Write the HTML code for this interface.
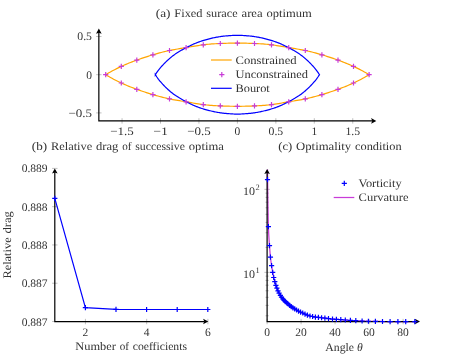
<!DOCTYPE html>
<html><head><meta charset="utf-8"><title>figure</title>
<style>html,body{margin:0;padding:0;background:#fff;}svg{display:block;will-change:transform;}text{font-family:"Liberation Serif",serif;font-size:11.5px;fill:#333;text-rendering:geometricPrecision;}</style>
</head><body>
<svg width="461" height="356" viewBox="0 0 461 356">
<rect width="461" height="356" fill="#fff"/>
<text x="155.8" y="17.3" textLength="14.67" lengthAdjust="spacingAndGlyphs">(a)</text>
<text x="174.3" y="17.3" textLength="28.22" lengthAdjust="spacingAndGlyphs">Fixed</text>
<text x="206.34" y="17.3" textLength="31.35" lengthAdjust="spacingAndGlyphs">surace</text>
<text x="241.52" y="17.3" textLength="21.08" lengthAdjust="spacingAndGlyphs">area</text>
<text x="266.42" y="17.3" textLength="45.28" lengthAdjust="spacingAndGlyphs">optimum</text>
<path d="M122.05 118.2V123.6M160.5 118.2V123.6M198.95 118.2V123.6M237.4 118.2V123.6M275.85 118.2V123.6M314.3 118.2V123.6M352.75 118.2V123.6M96.15 112.9H101.55M96.15 74.7H101.55M96.15 36.5H101.55" stroke="#808080" stroke-width="0.5" fill="none"/>
<path d="M98.85 120.9V31 M98.85 120.9H372" stroke="#000" stroke-width="1.2" fill="none" stroke-linecap="square"/>
<path d="M98.85 28.6 L96.05 33.8 L98.85 32.66 L101.65 33.8Z" fill="#000"/>
<path d="M376.3 120.9 L371.1 118.1 L372.24 120.9 L371.1 123.7Z" fill="#000"/>
<text x="122.05" y="135.4" text-anchor="middle" textLength="23.6" lengthAdjust="spacingAndGlyphs">−1.5</text>
<text x="160.5" y="135.4" text-anchor="middle" textLength="14.7" lengthAdjust="spacingAndGlyphs">−1</text>
<text x="198.95" y="135.4" text-anchor="middle" textLength="23.6" lengthAdjust="spacingAndGlyphs">−0.5</text>
<text x="237.4" y="135.4" text-anchor="middle">0</text>
<text x="275.85" y="135.4" text-anchor="middle" textLength="14.7" lengthAdjust="spacingAndGlyphs">0.5</text>
<text x="314.3" y="135.4" text-anchor="middle">1</text>
<text x="352.75" y="135.4" text-anchor="middle" textLength="14.7" lengthAdjust="spacingAndGlyphs">1.5</text>
<text x="92" y="116.7" text-anchor="end" textLength="23.6" lengthAdjust="spacingAndGlyphs">−0.5</text>
<text x="92" y="78.5" text-anchor="end">0</text>
<text x="92" y="40.3" text-anchor="end" textLength="14.7" lengthAdjust="spacingAndGlyphs">0.5</text>
<path d="M105.7 74.7 L107.29 73.75 L108.87 72.82 L110.44 71.93 L112.01 71.06 L113.57 70.23 L115.12 69.41 L116.67 68.63 L118.22 67.86 L119.76 67.12 L121.3 66.4 L122.84 65.7 L124.38 65.02 L125.92 64.35 L127.46 63.71 L129.01 63.07 L130.56 62.46 L132.11 61.85 L133.67 61.26 L135.23 60.67 L136.8 60.1 L138.38 59.53 L139.96 58.98 L141.55 58.43 L143.15 57.89 L144.76 57.35 L146.37 56.83 L148 56.31 L149.62 55.8 L151.26 55.3 L152.9 54.8 L154.55 54.31 L156.2 53.83 L157.86 53.37 L159.52 52.91 L161.19 52.47 L162.85 52.04 L164.52 51.63 L166.18 51.23 L167.84 50.86 L169.5 50.5 L171.15 50.16 L172.8 49.85 L174.45 49.55 L176.1 49.26 L177.76 48.98 L179.41 48.7 L181.07 48.43 L182.74 48.16 L184.41 47.88 L186.1 47.6 L187.8 47.31 L189.5 47.01 L191.22 46.71 L192.94 46.41 L194.67 46.11 L196.4 45.82 L198.13 45.54 L199.85 45.28 L201.58 45.03 L203.3 44.8 L205.01 44.59 L206.72 44.41 L208.43 44.25 L210.13 44.1 L211.82 43.97 L213.52 43.85 L215.21 43.75 L216.91 43.66 L218.6 43.58 L220.3 43.5 L222 43.43 L223.7 43.36 L225.41 43.31 L227.12 43.25 L228.83 43.21 L230.54 43.17 L232.26 43.14 L233.97 43.12 L235.68 43.1 L237.4 43.1 L239.12 43.1 L240.83 43.12 L242.54 43.14 L244.26 43.17 L245.97 43.21 L247.68 43.25 L249.39 43.31 L251.1 43.36 L252.8 43.43 L254.5 43.5 L256.2 43.58 L257.89 43.66 L259.59 43.75 L261.28 43.85 L262.98 43.97 L264.67 44.1 L266.37 44.25 L268.08 44.41 L269.79 44.59 L271.5 44.8 L273.22 45.03 L274.95 45.28 L276.67 45.54 L278.4 45.82 L280.13 46.11 L281.86 46.41 L283.58 46.71 L285.3 47.01 L287 47.31 L288.7 47.6 L290.39 47.88 L292.06 48.16 L293.73 48.43 L295.39 48.7 L297.04 48.98 L298.7 49.26 L300.35 49.55 L302 49.85 L303.65 50.16 L305.3 50.5 L306.96 50.86 L308.62 51.23 L310.28 51.63 L311.95 52.04 L313.61 52.47 L315.28 52.91 L316.94 53.37 L318.6 53.83 L320.25 54.31 L321.9 54.8 L323.54 55.3 L325.18 55.8 L326.8 56.31 L328.43 56.83 L330.04 57.35 L331.65 57.89 L333.25 58.43 L334.84 58.98 L336.42 59.53 L338 60.1 L339.57 60.67 L341.13 61.26 L342.69 61.85 L344.24 62.46 L345.79 63.07 L347.34 63.71 L348.88 64.35 L350.42 65.02 L351.96 65.7 L353.5 66.4 L355.04 67.12 L356.58 67.86 L358.13 68.63 L359.68 69.41 L361.23 70.23 L362.79 71.06 L364.36 71.93 L365.93 72.82 L367.51 73.75 L369.1 74.7 L367.51 75.65 L365.93 76.58 L364.36 77.47 L362.79 78.34 L361.23 79.17 L359.68 79.99 L358.13 80.77 L356.58 81.54 L355.04 82.28 L353.5 83 L351.96 83.7 L350.42 84.38 L348.88 85.05 L347.34 85.69 L345.79 86.33 L344.24 86.94 L342.69 87.55 L341.13 88.14 L339.57 88.73 L338 89.3 L336.42 89.87 L334.84 90.42 L333.25 90.97 L331.65 91.51 L330.04 92.05 L328.43 92.57 L326.8 93.09 L325.18 93.6 L323.54 94.1 L321.9 94.6 L320.25 95.09 L318.6 95.57 L316.94 96.03 L315.28 96.49 L313.61 96.93 L311.95 97.36 L310.28 97.77 L308.62 98.17 L306.96 98.54 L305.3 98.9 L303.65 99.24 L302 99.55 L300.35 99.85 L298.7 100.14 L297.04 100.42 L295.39 100.7 L293.73 100.97 L292.06 101.24 L290.39 101.52 L288.7 101.8 L287 102.09 L285.3 102.39 L283.58 102.69 L281.86 102.99 L280.13 103.29 L278.4 103.58 L276.67 103.86 L274.95 104.12 L273.22 104.37 L271.5 104.6 L269.79 104.81 L268.08 104.99 L266.37 105.15 L264.67 105.3 L262.98 105.43 L261.28 105.55 L259.59 105.65 L257.89 105.74 L256.2 105.82 L254.5 105.9 L252.8 105.97 L251.1 106.04 L249.39 106.09 L247.68 106.15 L245.97 106.19 L244.26 106.23 L242.54 106.26 L240.83 106.28 L239.12 106.3 L237.4 106.3 L235.68 106.3 L233.97 106.28 L232.26 106.26 L230.54 106.23 L228.83 106.19 L227.12 106.15 L225.41 106.09 L223.7 106.04 L222 105.97 L220.3 105.9 L218.6 105.82 L216.91 105.74 L215.21 105.65 L213.52 105.55 L211.82 105.43 L210.13 105.3 L208.43 105.15 L206.72 104.99 L205.01 104.81 L203.3 104.6 L201.58 104.37 L199.85 104.12 L198.13 103.86 L196.4 103.58 L194.67 103.29 L192.94 102.99 L191.22 102.69 L189.5 102.39 L187.8 102.09 L186.1 101.8 L184.41 101.52 L182.74 101.24 L181.07 100.97 L179.41 100.7 L177.76 100.42 L176.1 100.14 L174.45 99.85 L172.8 99.55 L171.15 99.24 L169.5 98.9 L167.84 98.54 L166.18 98.17 L164.52 97.77 L162.85 97.36 L161.19 96.93 L159.52 96.49 L157.86 96.03 L156.2 95.57 L154.55 95.09 L152.9 94.6 L151.26 94.1 L149.62 93.6 L148 93.09 L146.37 92.57 L144.76 92.05 L143.15 91.51 L141.55 90.97 L139.96 90.42 L138.38 89.87 L136.8 89.3 L135.23 88.73 L133.67 88.14 L132.11 87.55 L130.56 86.94 L129.01 86.33 L127.46 85.69 L125.92 85.05 L124.38 84.38 L122.84 83.7 L121.3 83 L119.76 82.28 L118.22 81.54 L116.67 80.77 L115.12 79.99 L113.57 79.17 L112.01 78.34 L110.44 77.47 L108.87 76.58 L107.29 75.65 L105.7 74.7Z" stroke="#ffa500" stroke-width="1.2" fill="none" stroke-linejoin="miter"/>
<path d="M155.3 74.8 L155.8 73.99 L156.32 73.2 L156.85 72.41 L157.4 71.63 L157.95 70.87 L158.52 70.11 L159.11 69.36 L159.7 68.62 L160.3 67.89 L160.92 67.17 L161.54 66.46 L162.18 65.75 L162.82 65.06 L163.47 64.37 L164.13 63.68 L164.79 63.01 L165.46 62.34 L166.14 61.67 L166.82 61.01 L167.51 60.36 L168.21 59.72 L168.92 59.08 L169.63 58.46 L170.35 57.84 L171.08 57.24 L171.82 56.65 L172.57 56.06 L173.32 55.49 L174.09 54.93 L174.86 54.38 L175.64 53.84 L176.43 53.32 L177.23 52.8 L178.03 52.29 L178.83 51.79 L179.64 51.29 L180.46 50.81 L181.28 50.34 L182.1 49.87 L182.93 49.41 L183.76 48.95 L184.6 48.5 L185.44 48.06 L186.28 47.62 L187.12 47.19 L187.97 46.76 L188.81 46.34 L189.67 45.92 L190.52 45.5 L191.38 45.1 L192.24 44.7 L193.1 44.3 L193.97 43.92 L194.84 43.54 L195.71 43.18 L196.59 42.82 L197.47 42.48 L198.36 42.14 L199.25 41.82 L200.14 41.51 L201.04 41.2 L201.94 40.91 L202.85 40.62 L203.75 40.35 L204.66 40.08 L205.58 39.81 L206.49 39.56 L207.41 39.31 L208.32 39.07 L209.24 38.84 L210.17 38.61 L211.09 38.38 L212.01 38.17 L212.94 37.96 L213.86 37.76 L214.79 37.57 L215.72 37.38 L216.65 37.2 L217.59 37.04 L218.52 36.88 L219.46 36.73 L220.39 36.59 L221.33 36.46 L222.27 36.34 L223.21 36.22 L224.15 36.12 L225.1 36.02 L226.04 35.94 L226.99 35.85 L227.93 35.78 L228.88 35.71 L229.82 35.64 L230.77 35.58 L231.72 35.52 L232.66 35.46 L233.61 35.41 L234.56 35.37 L235.51 35.33 L236.45 35.31 L237.4 35.3 L238.35 35.31 L239.29 35.33 L240.24 35.37 L241.19 35.41 L242.14 35.46 L243.08 35.52 L244.03 35.58 L244.98 35.64 L245.92 35.71 L246.87 35.78 L247.81 35.85 L248.76 35.94 L249.7 36.02 L250.65 36.12 L251.59 36.22 L252.53 36.34 L253.47 36.46 L254.41 36.59 L255.34 36.73 L256.28 36.88 L257.21 37.04 L258.15 37.2 L259.08 37.38 L260.01 37.57 L260.94 37.76 L261.86 37.96 L262.79 38.17 L263.71 38.38 L264.63 38.61 L265.56 38.84 L266.48 39.07 L267.39 39.31 L268.31 39.56 L269.22 39.81 L270.14 40.08 L271.05 40.35 L271.95 40.62 L272.86 40.91 L273.76 41.2 L274.66 41.51 L275.55 41.82 L276.44 42.14 L277.33 42.48 L278.21 42.82 L279.09 43.18 L279.96 43.54 L280.83 43.92 L281.7 44.3 L282.56 44.7 L283.42 45.1 L284.28 45.5 L285.13 45.92 L285.99 46.34 L286.83 46.76 L287.68 47.19 L288.52 47.62 L289.36 48.06 L290.2 48.5 L291.04 48.95 L291.87 49.41 L292.7 49.87 L293.52 50.34 L294.34 50.81 L295.16 51.29 L295.97 51.79 L296.77 52.29 L297.57 52.8 L298.37 53.32 L299.16 53.84 L299.94 54.38 L300.71 54.93 L301.48 55.49 L302.23 56.06 L302.98 56.65 L303.72 57.24 L304.45 57.84 L305.17 58.46 L305.88 59.08 L306.59 59.72 L307.29 60.36 L307.98 61.01 L308.66 61.67 L309.34 62.34 L310.01 63.01 L310.67 63.68 L311.33 64.37 L311.98 65.06 L312.62 65.75 L313.26 66.46 L313.88 67.17 L314.5 67.89 L315.1 68.62 L315.69 69.36 L316.28 70.11 L316.85 70.87 L317.4 71.63 L317.95 72.41 L318.48 73.2 L319 73.99 L319.5 74.8 L319 75.41 L318.48 76.2 L317.95 76.99 L317.4 77.77 L316.85 78.53 L316.28 79.29 L315.69 80.04 L315.1 80.78 L314.5 81.51 L313.88 82.23 L313.26 82.94 L312.62 83.65 L311.98 84.34 L311.33 85.03 L310.67 85.72 L310.01 86.39 L309.34 87.06 L308.66 87.73 L307.98 88.39 L307.29 89.04 L306.59 89.68 L305.88 90.32 L305.17 90.94 L304.45 91.56 L303.72 92.16 L302.98 92.75 L302.23 93.34 L301.48 93.91 L300.71 94.47 L299.94 95.02 L299.16 95.56 L298.37 96.08 L297.57 96.6 L296.77 97.11 L295.97 97.61 L295.16 98.11 L294.34 98.59 L293.52 99.06 L292.7 99.53 L291.87 99.99 L291.04 100.45 L290.2 100.9 L289.36 101.34 L288.52 101.78 L287.68 102.21 L286.83 102.64 L285.99 103.06 L285.13 103.48 L284.28 103.9 L283.42 104.3 L282.56 104.7 L281.7 105.1 L280.83 105.48 L279.96 105.86 L279.09 106.22 L278.21 106.58 L277.33 106.92 L276.44 107.26 L275.55 107.58 L274.66 107.89 L273.76 108.2 L272.86 108.49 L271.95 108.78 L271.05 109.05 L270.14 109.32 L269.22 109.59 L268.31 109.84 L267.39 110.09 L266.48 110.33 L265.56 110.56 L264.63 110.79 L263.71 111.02 L262.79 111.23 L261.86 111.44 L260.94 111.64 L260.01 111.83 L259.08 112.02 L258.15 112.2 L257.21 112.36 L256.28 112.52 L255.34 112.67 L254.41 112.81 L253.47 112.94 L252.53 113.06 L251.59 113.18 L250.65 113.28 L249.7 113.38 L248.76 113.46 L247.81 113.55 L246.87 113.62 L245.92 113.69 L244.98 113.76 L244.03 113.82 L243.08 113.88 L242.14 113.94 L241.19 113.99 L240.24 114.03 L239.29 114.07 L238.35 114.09 L237.4 114.1 L236.45 114.09 L235.51 114.07 L234.56 114.03 L233.61 113.99 L232.66 113.94 L231.72 113.88 L230.77 113.82 L229.82 113.76 L228.88 113.69 L227.93 113.62 L226.99 113.55 L226.04 113.46 L225.1 113.38 L224.15 113.28 L223.21 113.18 L222.27 113.06 L221.33 112.94 L220.39 112.81 L219.46 112.67 L218.52 112.52 L217.59 112.36 L216.65 112.2 L215.72 112.02 L214.79 111.83 L213.86 111.64 L212.94 111.44 L212.01 111.23 L211.09 111.02 L210.17 110.79 L209.24 110.56 L208.32 110.33 L207.41 110.09 L206.49 109.84 L205.58 109.59 L204.66 109.32 L203.75 109.05 L202.85 108.78 L201.94 108.49 L201.04 108.2 L200.14 107.89 L199.25 107.58 L198.36 107.26 L197.47 106.92 L196.59 106.58 L195.71 106.22 L194.84 105.86 L193.97 105.48 L193.1 105.1 L192.24 104.7 L191.38 104.3 L190.52 103.9 L189.67 103.48 L188.81 103.06 L187.97 102.64 L187.12 102.21 L186.28 101.78 L185.44 101.34 L184.6 100.9 L183.76 100.45 L182.93 99.99 L182.1 99.53 L181.28 99.06 L180.46 98.59 L179.64 98.11 L178.83 97.61 L178.03 97.11 L177.23 96.6 L176.43 96.08 L175.64 95.56 L174.86 95.02 L174.09 94.47 L173.32 93.91 L172.57 93.34 L171.82 92.75 L171.08 92.16 L170.35 91.56 L169.63 90.94 L168.92 90.32 L168.21 89.68 L167.51 89.04 L166.82 88.39 L166.14 87.73 L165.46 87.06 L164.79 86.39 L164.13 85.72 L163.47 85.03 L162.82 84.34 L162.18 83.65 L161.54 82.94 L160.92 82.23 L160.3 81.51 L159.7 80.78 L159.11 80.04 L158.52 79.29 L157.95 78.53 L157.4 77.77 L156.85 76.99 L156.32 76.2 L155.8 75.41 L155.3 74.6Z" stroke="#0000ff" stroke-width="1.2" fill="none" stroke-linejoin="miter"/>
<path d="M103.1 74.7H108.3M105.7 72.1V77.3M118.7 66.4H123.9M121.3 63.8V69M118.7 83H123.9M121.3 80.4V85.6M134.2 60.1H139.4M136.8 57.5V62.7M134.2 89.3H139.4M136.8 86.7V91.9M150.3 54.8H155.5M152.9 52.2V57.4M150.3 94.6H155.5M152.9 92V97.2M166.9 50.5H172.1M169.5 47.9V53.1M166.9 98.9H172.1M169.5 96.3V101.5M183.5 47.6H188.7M186.1 45V50.2M183.5 101.8H188.7M186.1 99.2V104.4M200.7 44.8H205.9M203.3 42.2V47.4M200.7 104.6H205.9M203.3 102V107.2M217.7 43.5H222.9M220.3 40.9V46.1M217.7 105.9H222.9M220.3 103.3V108.5M234.8 43.1H240M237.4 40.5V45.7M234.8 106.3H240M237.4 103.7V108.9M251.9 43.5H257.1M254.5 40.9V46.1M251.9 105.9H257.1M254.5 103.3V108.5M268.9 44.8H274.1M271.5 42.2V47.4M268.9 104.6H274.1M271.5 102V107.2M286.1 47.6H291.3M288.7 45V50.2M286.1 101.8H291.3M288.7 99.2V104.4M302.7 50.5H307.9M305.3 47.9V53.1M302.7 98.9H307.9M305.3 96.3V101.5M319.3 54.8H324.5M321.9 52.2V57.4M319.3 94.6H324.5M321.9 92V97.2M335.4 60.1H340.6M338 57.5V62.7M335.4 89.3H340.6M338 86.7V91.9M350.9 66.4H356.1M353.5 63.8V69M350.9 83H356.1M353.5 80.4V85.6M366.5 74.7H371.7M369.1 72.1V77.3" stroke="#c83cd8" stroke-width="1.2" fill="none"/>
<path d="M211 60H231.7" stroke="#ffa500" stroke-width="1.2"/>
<path d="M219.2 74.6H224.4M221.8 72V77.2" stroke="#c83cd8" stroke-width="1.2"/>
<path d="M211 88.3H231.7" stroke="#0000ff" stroke-width="1.2"/>
<text x="235.5" y="63.7" text-anchor="start" textLength="61.1" lengthAdjust="spacingAndGlyphs">Constrained</text>
<text x="235.5" y="78.2" text-anchor="start" textLength="72.6" lengthAdjust="spacingAndGlyphs">Unconstrained</text>
<text x="235.5" y="92.3" text-anchor="start" textLength="34.3" lengthAdjust="spacingAndGlyphs">Bourot</text>
<text x="31.8" y="150" textLength="15.31" lengthAdjust="spacingAndGlyphs">(b)</text>
<text x="50.93" y="150" textLength="41.3" lengthAdjust="spacingAndGlyphs">Relative</text>
<text x="96.06" y="150" textLength="22.36" lengthAdjust="spacingAndGlyphs">drag</text>
<text x="122.24" y="150" textLength="9.25" lengthAdjust="spacingAndGlyphs">of</text>
<text x="135.31" y="150" textLength="49.62" lengthAdjust="spacingAndGlyphs">successive</text>
<text x="188.75" y="150" textLength="35.08" lengthAdjust="spacingAndGlyphs">optima</text>
<path d="M52.1 168.4H57.5M52.1 206.68H57.5M52.1 244.95H57.5M52.1 283.22H57.5M52.1 321.5H57.5M85.42 318.85V324.25M146.66 318.85V324.25M207.9 318.85V324.25" stroke="#808080" stroke-width="0.5" fill="none"/>
<path d="M54.8 321.55V171 M54.8 321.55H204" stroke="#000" stroke-width="1.2" fill="none" stroke-linecap="square"/>
<path d="M54.8 168.4 L52 173.6 L54.8 172.46 L57.6 173.6Z" fill="#000"/>
<path d="M208.3 321.55 L203.1 318.75 L204.24 321.55 L203.1 324.35Z" fill="#000"/>
<text x="47.6" y="172.4" text-anchor="end" textLength="25.9" lengthAdjust="spacingAndGlyphs">0.889</text>
<text x="47.6" y="210.68" text-anchor="end" textLength="25.9" lengthAdjust="spacingAndGlyphs">0.888</text>
<text x="47.6" y="248.95" text-anchor="end" textLength="25.9" lengthAdjust="spacingAndGlyphs">0.888</text>
<text x="47.6" y="287.22" text-anchor="end" textLength="25.9" lengthAdjust="spacingAndGlyphs">0.887</text>
<text x="47.6" y="325.5" text-anchor="end" textLength="25.9" lengthAdjust="spacingAndGlyphs">0.887</text>
<text x="85.42" y="336" text-anchor="middle">2</text>
<text x="146.66" y="336" text-anchor="middle">4</text>
<text x="207.9" y="336" text-anchor="middle">6</text>
<text x="75.3" y="350.4" textLength="40.53" lengthAdjust="spacingAndGlyphs">Number</text>
<text x="119.66" y="350.4" textLength="9.25" lengthAdjust="spacingAndGlyphs">of</text>
<text x="132.73" y="350.4" textLength="54.27" lengthAdjust="spacingAndGlyphs">coefficients</text>
<g transform="translate(11.1,278.6) rotate(-90)">
<text x="0" y="0" textLength="41.3" lengthAdjust="spacingAndGlyphs">Relative</text>
<text x="45.12" y="0" textLength="22.36" lengthAdjust="spacingAndGlyphs">drag</text>
</g>
<path d="M54.8 198.3 L85.4 307.6 L116 309.35 L146.6 309.5 L177.2 309.5 L207.8 309.5" stroke="#0000ff" stroke-width="1.2" fill="none"/>
<path d="M52.2 198.3H57.4M54.8 195.7V200.9M82.8 307.6H88M85.4 305V310.2M113.4 309.35H118.6M116 306.75V311.95M144 309.5H149.2M146.6 306.9V312.1M174.6 309.5H179.8M177.2 306.9V312.1M205.2 309.5H210.4M207.8 306.9V312.1" stroke="#0000ff" stroke-width="1.2" fill="none"/>
<text x="278.2" y="150" textLength="14.03" lengthAdjust="spacingAndGlyphs">(c)</text>
<text x="296.06" y="150" textLength="55.17" lengthAdjust="spacingAndGlyphs">Optimality</text>
<text x="355.05" y="150" textLength="46.56" lengthAdjust="spacingAndGlyphs">condition</text>
<path d="M264.4 272.35H269.8M264.4 189.35H269.8M267.1 318.85V324.25M301.1 318.85V324.25M335.1 318.85V324.25M369.1 318.85V324.25M403.1 318.85V324.25" stroke="#808080" stroke-width="0.5" fill="none"/>
<path d="M265.5 315.75H268.7M265.5 305.38H268.7M265.5 297.34H268.7M265.5 290.76H268.7M265.5 285.21H268.7M265.5 280.39H268.7M265.5 276.15H268.7M265.5 247.36H268.7M265.5 232.75H268.7M265.5 222.38H268.7M265.5 214.34H268.7M265.5 207.76H268.7M265.5 202.21H268.7M265.5 197.39H268.7M265.5 193.15H268.7" stroke="#666" stroke-width="0.45" fill="none"/>
<text x="267.1" y="336" text-anchor="middle">0</text>
<text x="301.1" y="336" text-anchor="middle">20</text>
<text x="335.1" y="336" text-anchor="middle">40</text>
<text x="369.1" y="336" text-anchor="middle">60</text>
<text x="403.1" y="336" text-anchor="middle">80</text>
<text x="325.3" y="351" text-anchor="start" textLength="37.4" lengthAdjust="spacingAndGlyphs">Angle <tspan font-style="italic">θ</tspan></text>
<text x="243.1" y="195.05" textLength="12" lengthAdjust="spacingAndGlyphs">10</text><text x="255.4" y="190.45" style="font-size:8.4px">2</text>
<text x="243.1" y="278.05" textLength="12" lengthAdjust="spacingAndGlyphs">10</text><text x="255.4" y="273.45" style="font-size:8.4px">1</text>
<path d="M267.5 169.6 L267.6 179.7 L267.76 191.9 L267.93 203.3 L268.09 213.34 L268.25 221.45 L268.41 227.08 L268.58 231.08 L268.74 234.41 L268.9 237.22 L269.07 239.67 L269.23 241.91 L269.39 244.09 L269.55 246.36 L269.72 248.59 L269.88 250.73 L270.04 252.74 L270.21 254.61 L270.37 256.31 L270.53 257.84 L270.69 259.23 L270.86 260.52 L271.02 261.74 L271.18 262.89 L271.34 264 L271.51 265.08 L271.67 266.17 L271.83 267.22 L272 268.24 L272.16 269.23 L272.32 270.2 L272.48 271.14 L272.65 272.06 L272.81 272.96 L272.97 273.85 L273.14 274.73 L273.3 275.58 L273.46 276.39 L273.62 277.16 L273.79 277.88 L273.95 278.55 L274.11 279.2 L274.28 279.81 L274.44 280.41 L274.6 281 L274.76 281.57 L274.93 282.14 L275.09 282.7 L275.25 283.25 L275.42 283.78 L275.58 284.3 L275.74 284.81 L275.9 285.31 L276.07 285.79 L276.23 286.27 L276.39 286.73 L276.55 287.18 L276.72 287.62 L276.88 288.05 L277.04 288.47 L277.21 288.89 L277.37 289.29 L277.53 289.69 L277.69 290.08 L277.86 290.47 L278.02 290.85 L278.18 291.22 L278.35 291.6 L278.51 291.97 L278.67 292.33 L278.83 292.67 L279 293 L279.16 293.31 L279.32 293.6 L279.49 293.87 L279.65 294.12 L279.81 294.38 L279.97 294.62 L280.14 294.88 L280.3 295.13 L280.46 295.41 L280.63 295.69 L280.79 295.99 L280.95 296.28 L281.11 296.57 L281.28 296.85 L281.44 297.11 L281.6 297.34 L281.76 297.56 L281.93 297.76 L282.09 297.95 L282.25 298.14 L282.42 298.33 L282.58 298.52 L282.74 298.73 L282.9 298.94 L283.07 299.17 L283.23 299.4 L283.39 299.64 L283.56 299.87 L283.72 300.08 L283.88 300.28 L284.04 300.46 L284.21 300.63 L284.37 300.8 L284.53 300.96 L284.7 301.12 L284.86 301.27 L285.02 301.42 L285.18 301.57 L285.35 301.72 L285.51 301.86 L285.67 301.99 L285.84 302.13 L286 302.26 L286.16 302.4 L286.32 302.53 L286.49 302.66 L286.65 302.79 L286.81 302.92 L286.97 303.04 L287.14 303.17 L287.3 303.31 L287.46 303.44 L287.63 303.57 L287.79 303.71 L287.95 303.84 L288.11 303.98 L288.28 304.12 L288.44 304.26 L288.6 304.4 L288.77 304.54 L288.93 304.68 L289.09 304.82 L289.25 304.96 L289.42 305.1 L289.58 305.23 L289.74 305.37 L289.91 305.51 L290.07 305.64 L290.23 305.78 L290.39 305.91 L290.56 306.05 L290.72 306.18 L290.88 306.31 L291.05 306.43 L291.21 306.56 L291.37 306.68 L291.53 306.81 L291.7 306.93 L291.86 307.04 L292.02 307.16 L292.18 307.27 L292.35 307.39 L292.51 307.5 L292.67 307.61 L292.84 307.72 L293 307.83 L293.16 307.93 L293.32 308.04 L293.49 308.14 L293.65 308.25 L293.81 308.35 L293.98 308.45 L294.14 308.56 L294.3 308.66 L294.46 308.76 L294.63 308.86 L294.79 308.96 L294.95 309.05 L295.12 309.15 L295.28 309.25 L295.44 309.35 L295.6 309.44 L295.77 309.54 L295.93 309.64 L296.09 309.73 L296.26 309.83 L296.42 309.92 L296.58 310.02 L296.74 310.11 L296.91 310.2 L297.07 310.3 L297.23 310.39 L297.39 310.48 L297.56 310.57 L297.72 310.66 L297.88 310.75 L298.05 310.84 L298.21 310.93 L298.37 311.02 L298.53 311.11 L298.7 311.19 L298.86 311.28 L299.02 311.36 L299.19 311.44 L299.35 311.53 L299.51 311.61 L299.67 311.69 L299.84 311.77 L300 311.84 L301.16 312.36 L302.32 312.85 L303.48 313.35 L304.64 313.9 L305.8 314.49 L306.96 315.03 L308.12 315.45 L309.28 315.81 L310.44 316.1 L311.6 316.32 L312.76 316.53 L313.92 316.77 L315.07 316.98 L316.23 317.11 L317.39 317.22 L318.55 317.34 L319.71 317.51 L320.87 317.68 L322.03 317.82 L323.19 317.94 L324.35 318.06 L325.51 318.19 L326.67 318.32 L327.83 318.46 L328.99 318.6 L330.15 318.77 L331.31 318.92 L332.47 319.03 L333.63 319.11 L334.79 319.19 L335.95 319.26 L337.11 319.34 L338.27 319.42 L339.43 319.51 L340.59 319.6 L341.75 319.69 L342.91 319.79 L344.06 319.9 L345.22 319.99 L346.38 320.09 L347.54 320.19 L348.7 320.28 L349.86 320.36 L351.02 320.44 L352.18 320.51 L353.34 320.57 L354.5 320.63 L355.66 320.69 L356.82 320.75 L357.98 320.81 L359.14 320.87 L360.3 320.93 L361.46 320.98 L362.62 321.03 L363.78 321.08 L364.94 321.13 L366.1 321.17 L367.26 321.22 L368.42 321.25 L369.58 321.28 L370.74 321.31 L371.89 321.34 L373.05 321.36 L374.21 321.38 L375.37 321.4 L376.53 321.42 L377.69 321.44 L378.85 321.46 L380.01 321.48 L381.17 321.49 L382.33 321.5 L383.49 321.51 L384.65 321.51 L385.81 321.52 L386.97 321.52 L388.13 321.53 L389.29 321.54 L390.45 321.54 L391.61 321.55 L392.77 321.55 L393.93 321.56 L395.09 321.56 L396.25 321.57 L397.41 321.57 L398.57 321.57 L399.73 321.58 L400.88 321.58 L402.04 321.58 L403.2 321.59 L404.36 321.59 L405.52 321.59 L406.68 321.59 L407.84 321.59 L409 321.6 L410.16 321.6 L411.32 321.6 L412.48 321.6 L413.64 321.6 L414.8 321.6" stroke="#c83cd8" stroke-width="1.25" fill="none"/>
<path d="M267.1 321.55V172 M267.1 321.55H415" stroke="#000" stroke-width="1.2" fill="none" stroke-linecap="square"/>
<path d="M267.1 168.9 L264.3 174.1 L267.1 172.96 L269.9 174.1Z" fill="#000"/>
<path d="M420 321.55 L414.8 318.75 L415.94 321.55 L414.8 324.35Z" fill="#000"/>
<path d="M264.9 179.7H270.1M267.5 177.1V182.3M265.8 226.7H271M268.4 224.1V229.3M266.9 245.6H272.1M269.5 243V248.2M267.85 257.1H273.05M270.45 254.5V259.7M269 265.7H274.2M271.6 263.1V268.3M270.1 272.35H275.3M272.7 269.75V274.95M271.1 277.5H276.3M273.7 274.9V280.1M272.2 281.7H277.4M274.8 279.1V284.3M273.3 285.3H278.5M275.9 282.7V287.9M274.3 288.1H279.5M276.9 285.5V290.7M275.4 290.8H280.6M278 288.2V293.4M276.5 293.2H281.7M279.1 290.6V295.8M277.8 295.3H283M280.4 292.7V297.9M278.9 297.2H284.1M281.5 294.6V299.8M280.2 298.8H285.4M282.8 296.2V301.4M281.44 300.45H286.64M284.04 297.85V303.05M282.74 301.71H287.94M285.34 299.11V304.31M284.11 302.83H289.31M286.71 300.23V305.43M285.55 304.01H290.75M288.15 301.41V306.61M287.07 305.31H292.27M289.67 302.71V307.91M288.66 306.6H293.86M291.26 304V309.2M290.34 307.79H295.54M292.94 305.19V310.39M292.11 308.9H297.31M294.71 306.3V311.5M293.96 310.01H299.16M296.56 307.41V312.61M295.92 311.1H301.12M298.52 308.5V313.7M297.97 312.1H303.17M300.57 309.5V314.7M300.13 313.02H305.33M302.73 310.42V315.62M302.41 314.09H307.61M305.01 311.49V316.69M304.8 315.2H310M307.4 312.6V317.8M307.4 316H312.6M310 313.4V318.6M310 316.5H315.2M312.6 313.9V319.1M312.8 317.03H318M315.4 314.43V319.63M315.8 317.32H321M318.4 314.72V319.92M319 317.77H324.2M321.6 315.17V320.37M322.3 318.12H327.5M324.9 315.52V320.72M325.9 318.54H331.1M328.5 315.94V321.14M329.9 319.03H335.1M332.5 316.43V321.63M333.8 319.29H339M336.4 316.69V321.89M338.2 319.62H343.4M340.8 317.02V322.22M342.7 320H347.9M345.3 317.4V322.6M347.8 320.4H353M350.4 317.8V323M353.2 320.69H358.4M355.8 318.09V323.29M359.5 321.01H364.7M362.1 318.41V323.61M365.8 321.25H371M368.4 318.65V323.85M372.8 321.4H378M375.4 318.8V324M379.9 321.5H385.1M382.5 318.9V324.1M387.5 321.54H392.7M390.1 318.94V324.14M395.3 321.57H400.5M397.9 318.97V324.17M403.1 321.59H408.3M405.7 318.99V324.19M412.2 321.6H417.4M414.8 319V324.2" stroke="#0000ff" stroke-width="1.2" fill="none"/>
<path d="M341.7 183.4H346.9M344.3 180.8V186" stroke="#0000ff" stroke-width="1.2"/>
<path d="M333.7 197.5H354.3" stroke="#c83cd8" stroke-width="1.25"/>
<text x="358.6" y="186.8" text-anchor="start" textLength="43" lengthAdjust="spacingAndGlyphs">Vorticity</text>
<text x="358.6" y="201" text-anchor="start" textLength="49.9" lengthAdjust="spacingAndGlyphs">Curvature</text>
</svg></body></html>
